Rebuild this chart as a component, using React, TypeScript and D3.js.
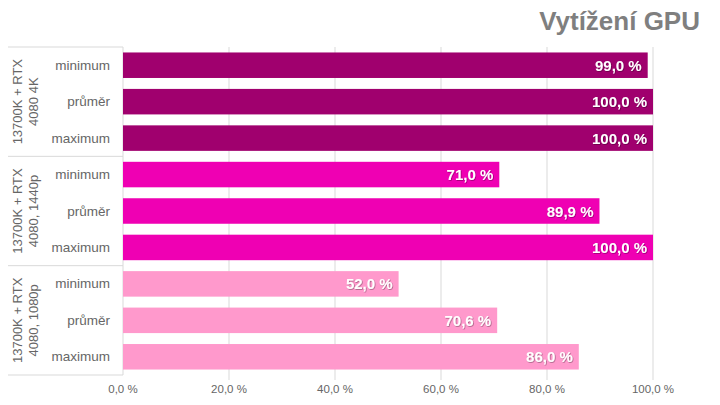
import React from "react";
import * as d3 from "d3";

const groups = ["13700K + RTX|4080 4K", "13700K + RTX|4080, 1440p", "13700K + RTX|4080, 1080p"];
const metrics = ["minimum", "průměr", "maximum"];
const values = [
  [99.0, 100.0, 100.0],
  [71.0, 89.9, 100.0],
  [52.0, 70.6, 86.0],
];
const groupColors = ["#A0006E", "#EF00B3", "#FF99CC"];
const xTicks = [0, 20, 40, 60, 80, 100];

const W = 720, H = 405;
const left = 123, right = 653, top = 47, bottom = 375;
const labelLeft = 8;

const fmt = (v: number) => v.toFixed(1).replace(".", ",") + " %";

export default function App() {
  const x = d3.scaleLinear().domain([0, 100]).range([left, right]);
  const rows = groups.flatMap((g, gi) => metrics.map((m, mi) => ({ key: `${gi}-${mi}`, gi, mi, m, v: values[gi][mi] })));
  const y = d3.scaleBand().domain(rows.map(r => r.key)).range([top, bottom]).paddingInner(0.3).paddingOuter(0.15);
  const gH = (bottom - top) / groups.length;
  const font = "'Liberation Sans', Arial, sans-serif";
  return (
    <svg width={W} height={H} style={{ position: "absolute", left: 0, top: 0, fontFamily: font }}>
      <defs>
        <filter id="sh" x="-10%" y="-20%" width="130%" height="150%">
          <feDropShadow dx="0.7" dy="0.7" stdDeviation="0.4" floodColor="#000" floodOpacity="0.4" />
        </filter>
      </defs>
      <rect width={W} height={H} fill="#fff" />
      <text x={700} y={30} textAnchor="end" fontSize={26} fontWeight="bold" fill="#7F7F7F">Vytížení GPU</text>
      {xTicks.slice(1).map(t => (
        <line key={t} x1={x(t)} x2={x(t)} y1={top} y2={bottom + 5} stroke="#D9D9D9" strokeWidth={1} />
      ))}
      {xTicks.map(t => (
        <text key={t} x={x(t)} y={393} textAnchor="middle" fontSize={11.5} fill="#666">{fmt(t)}</text>
      ))}
      <line x1={left} x2={left} y1={top} y2={bottom} stroke="#D9D9D9" />
      {d3.range(groups.length + 1).map(i => (
        <line key={i} x1={labelLeft} x2={left} y1={top + i * gH} y2={top + i * gH} stroke="#D9D9D9" />
      ))}
      {groups.map((g, gi) => {
        const cy = top + gi * gH + gH / 2;
        const lines = g.split("|");
        return (
          <text key={g} transform={`translate(22,${cy}) rotate(-90)`} textAnchor="middle" fontSize={13} fill="#666">
            {lines.map((l, li) => (
              <tspan key={li} x={0} dy={li === 0 ? 0 : 15.5}>{l}</tspan>
            ))}
          </text>
        );
      })}
      {rows.map(r => {
        const yy = y(r.key)!;
        const bw = y.bandwidth();
        return (
          <g key={r.key}>
            <text x={110} y={yy + bw / 2 + 4.5} textAnchor="end" fontSize={13.5} fill="#666">{r.m}</text>
            <rect x={x(0)} y={yy} width={x(r.v) - x(0)} height={bw} fill={groupColors[r.gi]} />
            <text x={x(r.v) - 6} y={yy + bw / 2 + 5.5} textAnchor="end" fontSize={15} fontWeight="bold" fill="#fff" filter="url(#sh)">{fmt(r.v)}</text>
          </g>
        );
      })}
    </svg>
  );
}
